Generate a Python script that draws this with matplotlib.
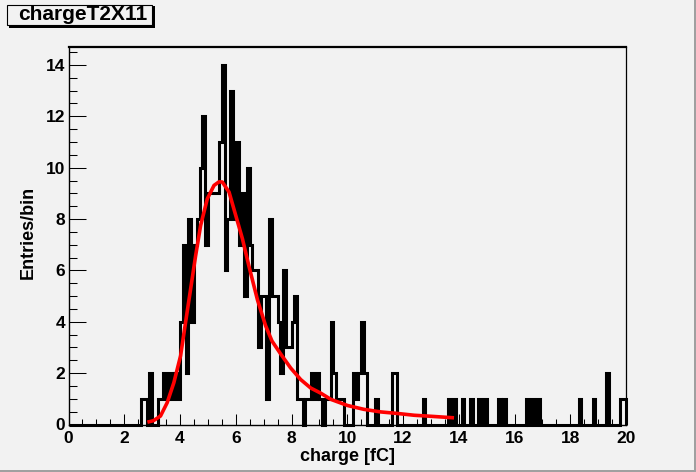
import matplotlib
matplotlib.use("Agg")
import matplotlib.pyplot as plt
from matplotlib.patches import Rectangle
from matplotlib.ticker import MultipleLocator
import numpy as np

plt.rcParams['font.family'] = ['Liberation Sans', 'DejaVu Sans']
plt.rcParams['font.weight'] = 'bold'

# histogram chargeT2X11: 200 bins of 0.1 fC between 0 and 20
x_min, x_max, n_bins = 0.0, 20.0, 200
counts = [
    0, 0, 0, 0, 0, 0, 0, 0, 0, 0, 0, 0, 0, 0, 0, 0, 0, 0, 0, 0,
    0, 0, 0, 0, 0, 0, 1, 1, 0, 2, 0, 0, 1, 1, 2, 1, 2, 1, 2, 1,
    4, 7, 2, 8, 4, 7, 8, 10, 12, 7, 9, 9, 9, 9, 11, 14, 6, 8, 13, 8,
    11, 7, 9, 5, 10, 7, 6, 6, 3, 5, 5, 1, 8, 5, 5, 4, 2, 6, 3, 3,
    4, 5, 1, 1, 0, 1, 1, 2, 1, 2, 1, 0, 1, 1, 4, 2, 1, 1, 1, 0,
    0, 0, 2, 1, 2, 4, 2, 0, 0, 0, 1, 0, 0, 0, 0, 0, 2, 2, 0, 0,
    0, 0, 0, 0, 0, 0, 0, 1, 0, 0, 0, 0, 0, 0, 0, 0, 1, 0, 1, 0,
    0, 1, 0, 0, 1, 0, 0, 1, 0, 1, 0, 0, 0, 0, 1, 0, 1, 0, 0, 0,
    0, 0, 0, 0, 1, 0, 1, 0, 1, 0, 0, 0, 0, 0, 0, 0, 0, 0, 0, 0,
    0, 0, 0, 1, 0, 0, 0, 0, 1, 0, 0, 0, 0, 2, 0, 0, 0, 0, 1, 1,
]

# fitted curve, points
fit_x = [2.83, 3.05, 3.30, 3.54, 3.78, 4.02, 4.20, 4.38, 4.56, 4.74, 4.98,
         5.22, 5.40, 5.52, 5.76, 6.00, 6.24, 6.47, 6.78, 7.07, 7.30, 7.61,
         7.97, 8.33, 8.69, 9.05, 9.41, 10.01, 10.60, 11.20, 11.80, 12.40,
         13.00, 13.83]
fit_y = [0.09, 0.15, 0.33, 0.85, 1.63, 2.67, 3.98, 5.27, 6.57, 7.75, 8.79,
         9.31, 9.45, 9.44, 9.05, 8.14, 7.23, 6.18, 4.85, 3.85, 3.25, 2.75,
         2.20, 1.75, 1.42, 1.22, 0.98, 0.74, 0.59, 0.49, 0.43, 0.36,
         0.32, 0.26]

W, H = 696, 472
bg = '#f2f2f2'


def fx(px):
    return px / W


def fy(py):
    return 1 - py / H


fig = plt.figure(figsize=(W / 100, H / 100), dpi=100, facecolor=bg)
ax = fig.add_axes([fx(68.5), fy(424.5), fx(626) - fx(68.5), fy(47) - fy(424.5)])
ax.set_facecolor(bg)

edges = np.linspace(x_min, x_max, n_bins + 1)
ax.stairs(counts, edges, baseline=0, color='black', lw=2.2, clip_on=False, zorder=3)
ax.plot(fit_x, fit_y, color='red', lw=2.6, zorder=4, solid_capstyle='butt')

ax.set_xlim(x_min, x_max)
ax.set_ylim(0, 14.7)

ax.xaxis.set_major_locator(MultipleLocator(2))
ax.xaxis.set_minor_locator(MultipleLocator(0.5))
ax.yaxis.set_major_locator(MultipleLocator(2))
ax.yaxis.set_minor_locator(MultipleLocator(0.5))

ax.tick_params(axis='both', which='both', direction='in', top=False, right=False,
               width=0.75, labelsize=12.5)
ax.tick_params(axis='y', which='major', length=12, pad=2.5)
ax.tick_params(axis='y', which='minor', length=6)
ax.tick_params(axis='x', which='major', length=8, pad=4.5)
ax.tick_params(axis='x', which='minor', length=4)

ax.spines['top'].set_linewidth(1.6)
ax.spines['right'].set_linewidth(0.9)
ax.spines['left'].set_linewidth(1.0)
ax.spines['bottom'].set_linewidth(1.0)

ax.set_xlabel('charge [fC]', fontsize=13, fontweight='bold')
ax.set_ylabel('Entries/bin', fontsize=13, fontweight='bold')
ax.xaxis.set_label_coords(0.501, -0.086)
ax.yaxis.set_label_coords(-0.073, 0.51)
ax.xaxis.label.set_va('center')
ax.yaxis.label.set_va('center')

# title box with ROOT style shadow
fig.add_artist(Rectangle((fx(9), fy(27.5)), fx(154.5) - fx(9), fy(6) - fy(27.5),
                         transform=fig.transFigure, facecolor='black', edgecolor='none'))
fig.add_artist(Rectangle((fx(7), fy(25)), fx(152) - fx(7), fy(4.5) - fy(25),
                         transform=fig.transFigure, facecolor=bg, edgecolor='black', lw=0.8))
fig.text(fx(82.5), fy(15), 'chargeT2X11', fontsize=15, fontweight='bold',
         ha='center', va='center')

# canvas bevel
fig.add_artist(Rectangle((fx(694), 0), fx(2), 1, transform=fig.transFigure,
                         facecolor='#a0a0a0', edgecolor='none'))
fig.add_artist(Rectangle((0, 0), 1, 1 - fy(2), transform=fig.transFigure,
                         facecolor='#a0a0a0', edgecolor='none'))

fig.savefig('out.png', dpi=100, facecolor=bg)
